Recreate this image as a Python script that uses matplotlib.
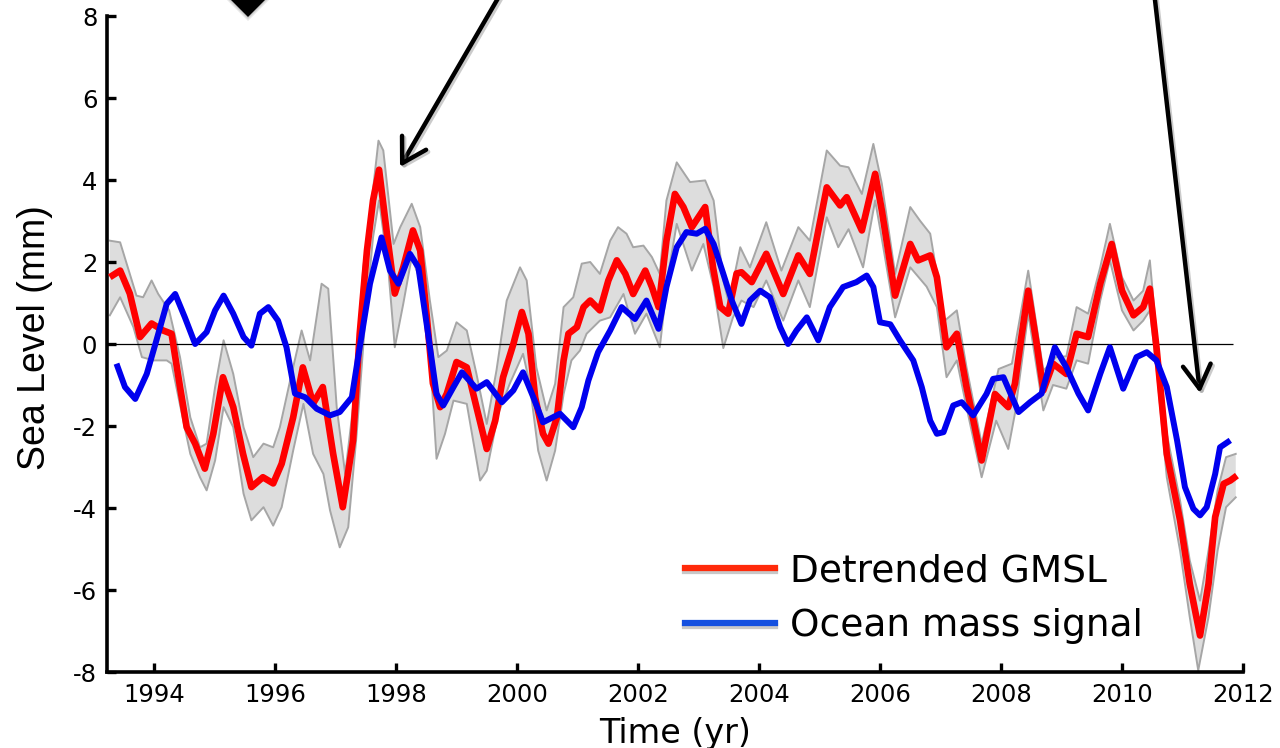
import numpy as np
import matplotlib
matplotlib.use("Agg")
import matplotlib.pyplot as plt
import matplotlib.patheffects as pe
from matplotlib.lines import Line2D
from matplotlib.patches import Polygon

# ---------------- data ----------------
gmsl_years = [
    1993.27, 1993.44, 1993.60, 1993.77, 1993.96, 1994.15, 1994.29, 1994.43, 1994.54, 1994.68,
    1994.84, 1994.98, 1995.14, 1995.31, 1995.47, 1995.61, 1995.80, 1995.97, 1996.11, 1996.30,
    1996.46, 1996.63, 1996.79, 1996.96, 1997.12, 1997.29, 1997.40, 1997.52, 1997.62, 1997.72,
    1997.85, 1997.98, 1998.12, 1998.28, 1998.40, 1998.51, 1998.61, 1998.73, 1998.84, 1999.00,
    1999.17, 1999.33, 1999.50, 1999.64, 1999.77, 1999.94, 2000.08, 2000.19, 2000.30, 2000.43,
    2000.52, 2000.66, 2000.77, 2000.85, 2000.99, 2001.10, 2001.21, 2001.37, 2001.51, 2001.65,
    2001.79, 2001.92, 2002.12, 2002.23, 2002.34, 2002.47, 2002.61, 2002.75, 2002.89, 2003.11,
    2003.24, 2003.36, 2003.49, 2003.63, 2003.71, 2003.88, 2004.12, 2004.40, 2004.65, 2004.84,
    2005.12, 2005.34, 2005.45, 2005.70, 2005.92, 2006.03, 2006.25, 2006.50, 2006.63, 2006.83,
    2006.94, 2007.10, 2007.27, 2007.43, 2007.68, 2007.90, 2008.12, 2008.23, 2008.33, 2008.45,
    2008.59, 2008.70, 2008.86, 2009.08, 2009.25, 2009.44, 2009.64, 2009.83, 2010.00, 2010.19,
    2010.35, 2010.46, 2010.57, 2010.74, 2010.96, 2011.12, 2011.29, 2011.43, 2011.54, 2011.68,
    2011.79, 2011.90]
gmsl_values = [
    1.63, 1.79, 1.23, 0.17, 0.50, 0.33, 0.25, -1.05, -2.03, -2.43,
    -3.04, -2.19, -0.81, -1.54, -2.67, -3.49, -3.25, -3.40, -2.92, -1.79,
    -0.57, -1.45, -1.05, -2.67, -3.98, -2.35, 0.25, 2.28, 3.50, 4.25,
    2.69, 1.23, 1.87, 2.77, 2.28, 0.65, -0.96, -1.54, -1.21, -0.44,
    -0.57, -1.54, -2.56, -1.87, -0.81, 0.00, 0.78, 0.25, -1.30, -2.19,
    -2.43, -1.79, -0.40, 0.25, 0.41, 0.90, 1.06, 0.82, 1.55, 2.04,
    1.71, 1.22, 1.79, 1.39, 0.90, 2.52, 3.66, 3.34, 2.85, 3.34,
    1.87, 0.90, 0.74, 1.72, 1.75, 1.51, 2.20, 1.22, 2.16, 1.71,
    3.82, 3.38, 3.58, 2.77, 4.15, 3.26, 1.18, 2.44, 2.04, 2.16,
    1.63, -0.08, 0.25, -1.05, -2.84, -1.22, -1.54, -0.97, 0.10, 1.30,
    0.00, -1.13, -0.48, -0.73, 0.25, 0.17, 1.47, 2.44, 1.30, 0.70,
    0.90, 1.35, -0.08, -2.68, -4.30, -5.85, -7.11, -5.85, -4.22, -3.41,
    -3.33, -3.21]

mass_years = [
    1993.38, 1993.52, 1993.69, 1993.88, 1994.04, 1994.21, 1994.35, 1994.51, 1994.68, 1994.87,
    1995.01, 1995.15, 1995.31, 1995.48, 1995.61, 1995.75, 1995.89, 1996.05, 1996.19, 1996.33,
    1996.50, 1996.69, 1996.91, 1997.07, 1997.27, 1997.40, 1997.57, 1997.76, 1997.90, 1998.04,
    1998.23, 1998.37, 1998.53, 1998.67, 1998.78, 1998.95, 1999.09, 1999.33, 1999.50, 1999.75,
    1999.94, 2000.10, 2000.27, 2000.43, 2000.71, 2000.93, 2001.07, 2001.18, 2001.34, 2001.54,
    2001.73, 2001.95, 2002.14, 2002.34, 2002.47, 2002.64, 2002.80, 2002.97, 2003.11, 2003.25,
    2003.41, 2003.55, 2003.71, 2003.85, 2004.02, 2004.18, 2004.35, 2004.48, 2004.62, 2004.79,
    2004.98, 2005.17, 2005.39, 2005.61, 2005.78, 2005.89, 2006.00, 2006.17, 2006.33, 2006.55,
    2006.69, 2006.83, 2006.94, 2007.05, 2007.21, 2007.35, 2007.54, 2007.76, 2007.87, 2008.04,
    2008.29, 2008.48, 2008.67, 2008.89, 2009.08, 2009.28, 2009.44, 2009.64, 2009.80, 2010.02,
    2010.24, 2010.41, 2010.57, 2010.74, 2010.91, 2011.04, 2011.18, 2011.29, 2011.40, 2011.54,
    2011.62, 2011.79]
mass_values = [
    -0.48, -1.05, -1.34, -0.73, 0.09, 0.98, 1.22, 0.65, 0.00, 0.29,
    0.82, 1.18, 0.74, 0.17, -0.04, 0.74, 0.90, 0.57, -0.08, -1.21,
    -1.30, -1.58, -1.74, -1.66, -1.30, -0.08, 1.47, 2.60, 1.79, 1.47,
    2.20, 1.87, 0.25, -1.22, -1.50, -1.05, -0.69, -1.09, -0.93, -1.42,
    -1.13, -0.69, -1.30, -1.91, -1.70, -2.03, -1.54, -0.89, -0.20, 0.33,
    0.90, 0.61, 1.06, 0.37, 1.39, 2.36, 2.73, 2.69, 2.81, 2.44,
    1.71, 1.06, 0.49, 1.06, 1.30, 1.14, 0.41, 0.00, 0.33, 0.65,
    0.09, 0.90, 1.39, 1.51, 1.67, 1.39, 0.53, 0.48, 0.09, -0.40,
    -1.05, -1.87, -2.19, -2.15, -1.50, -1.42, -1.74, -1.22, -0.85, -0.81,
    -1.66, -1.42, -1.21, -0.08, -0.57, -1.21, -1.62, -0.73, -0.08, -1.09,
    -0.32, -0.20, -0.40, -1.05, -2.35, -3.49, -4.02, -4.18, -3.98, -3.17,
    -2.52, -2.35]

upper_years = [
    1993.27, 1993.44, 1993.71, 1993.82, 1993.96, 1994.07, 1994.25, 1994.43, 1994.60, 1994.76,
    1994.87, 1995.01, 1995.15, 1995.31, 1995.48, 1995.64, 1995.81, 1995.97, 1996.08, 1996.25,
    1996.44, 1996.58, 1996.77, 1996.88, 1997.02, 1997.16, 1997.29, 1997.46, 1997.60, 1997.71,
    1997.79, 1997.96, 1998.07, 1998.26, 1998.40, 1998.56, 1998.70, 1998.84, 1999.00, 1999.17,
    1999.33, 1999.50, 1999.66, 1999.83, 2000.05, 2000.16, 2000.32, 2000.49, 2000.63, 2000.77,
    2000.93, 2001.07, 2001.21, 2001.37, 2001.54, 2001.67, 2001.81, 2001.92, 2002.09, 2002.23,
    2002.36, 2002.47, 2002.64, 2002.86, 2003.11, 2003.25, 2003.41, 2003.50, 2003.69, 2003.85,
    2004.12, 2004.37, 2004.65, 2004.84, 2005.12, 2005.34, 2005.48, 2005.70, 2005.89, 2006.03,
    2006.25, 2006.50, 2006.66, 2006.83, 2007.07, 2007.27, 2007.43, 2007.68, 2007.96, 2008.18,
    2008.45, 2008.70, 2008.91, 2009.08, 2009.25, 2009.44, 2009.64, 2009.80, 2010.00, 2010.19,
    2010.35, 2010.46, 2010.57, 2010.74, 2010.96, 2011.12, 2011.29, 2011.43, 2011.58, 2011.72,
    2011.88]
upper_values = [
    2.52, 2.48, 1.18, 1.14, 1.55, 1.22, 0.82, -0.32, -1.79, -2.52,
    -2.43, -1.05, 0.09, -0.73, -2.03, -2.76, -2.43, -2.52, -2.03, -0.89,
    0.33, -0.40, 1.47, 1.35, -1.54, -3.17, -1.54, 1.87, 3.50, 4.96,
    4.72, 2.44, 2.85, 3.42, 2.85, 1.06, -0.32, -0.16, 0.53, 0.33,
    -0.73, -1.95, -0.65, 1.06, 1.87, 1.55, -0.57, -1.62, -0.97, 0.90,
    1.14, 1.96, 2.00, 1.71, 2.52, 2.85, 2.69, 2.36, 2.40, 2.12,
    1.71, 3.50, 4.43, 3.95, 3.99, 3.50, 1.55, 1.00, 2.36, 1.87,
    2.97, 1.79, 2.85, 2.52, 4.72, 4.35, 4.31, 3.66, 4.88, 3.91,
    1.71, 3.34, 3.01, 2.69, 0.57, 0.82, -0.57, -2.43, -0.61, -0.48,
    1.79, -0.65, -0.32, -0.30, 0.90, 0.74, 1.87, 2.93, 1.63, 1.06,
    1.30, 2.04, 0.25, -2.19, -3.82, -5.28, -6.26, -5.04, -3.57, -2.76,
    -2.68]

lower_years = [
    1993.27, 1993.44, 1993.66, 1993.80, 1993.99, 1994.21, 1994.29, 1994.46, 1994.60, 1994.76,
    1994.87, 1995.01, 1995.15, 1995.31, 1995.48, 1995.61, 1995.81, 1995.97, 1996.11, 1996.30,
    1996.47, 1996.63, 1996.80, 1996.91, 1997.07, 1997.21, 1997.35, 1997.49, 1997.62, 1997.72,
    1997.87, 1997.98, 1998.12, 1998.26, 1998.40, 1998.56, 1998.67, 1998.81, 1998.95, 1999.17,
    1999.39, 1999.50, 1999.69, 1999.88, 2000.10, 2000.21, 2000.35, 2000.49, 2000.63, 2000.77,
    2000.90, 2001.04, 2001.15, 2001.37, 2001.54, 2001.76, 2001.95, 2002.14, 2002.36, 2002.50,
    2002.64, 2002.89, 2003.08, 2003.25, 2003.41, 2003.57, 2003.71, 2003.91, 2004.12, 2004.40,
    2004.65, 2004.84, 2005.12, 2005.31, 2005.48, 2005.72, 2005.92, 2006.05, 2006.25, 2006.50,
    2006.77, 2006.94, 2007.10, 2007.27, 2007.43, 2007.68, 2007.92, 2008.12, 2008.23, 2008.45,
    2008.70, 2008.86, 2009.08, 2009.25, 2009.44, 2009.64, 2009.80, 2010.00, 2010.19, 2010.35,
    2010.46, 2010.57, 2010.74, 2010.96, 2011.12, 2011.26, 2011.43, 2011.58, 2011.72, 2011.88]
lower_values = [
    0.70, 1.14, 0.41, -0.32, -0.40, -0.40, -0.48, -1.70, -2.68, -3.25,
    -3.57, -2.84, -1.54, -2.03, -3.65, -4.30, -3.98, -4.43, -3.98, -2.60,
    -1.46, -2.68, -3.17, -4.06, -4.96, -4.47, -2.19, 0.57, 2.60, 3.50,
    1.87, -0.08, 0.98, 2.12, 1.55, -0.24, -2.80, -2.19, -1.38, -1.46,
    -3.33, -3.09, -1.70, -0.97, -0.24, -0.97, -2.60, -3.33, -2.60, -1.22,
    -0.40, -0.16, 0.25, 0.57, 0.65, 1.22, 0.25, 0.74, -0.08, 1.71,
    2.93, 1.79, 2.44, 1.39, -0.10, 0.65, 1.06, 0.90, 1.55, 0.57,
    1.55, 0.90, 3.09, 2.36, 2.80, 1.87, 3.50, 2.40, 0.65, 1.87,
    1.40, 0.90, -0.81, -0.40, -1.54, -3.25, -1.87, -2.56, -1.70, 0.74,
    -1.62, -1.00, -1.09, -0.40, -0.48, 1.06, 2.04, 0.82, 0.33, 0.57,
    0.82, -0.57, -3.25, -5.04, -6.66, -7.96, -6.66, -5.04, -3.98, -3.74]

x_ticks = [1994, 1996, 1998, 2000, 2002, 2004, 2006, 2008, 2010, 2012]
y_ticks = [-8, -6, -4, -2, 0, 2, 4, 6, 8]
legend_labels = ["Detrended GMSL", "Ocean mass signal"]

# ---------------- figure ----------------
W, H = 1280, 748
fig = plt.figure(figsize=(W / 100, H / 100), dpi=100)
fig.patch.set_facecolor("white")

ax = fig.add_axes([107 / W, (H - 672) / H, 1136 / W, 656 / H])
ax.set_xlim(1993.223, 2012)
ax.set_ylim(-8, 8)

# uncertainty band
band_x = np.concatenate([upper_years, lower_years[::-1]])
band_y = np.concatenate([upper_values, lower_values[::-1]])
ax.fill(band_x, band_y, facecolor="#dddddd", edgecolor="none", zorder=1)
ax.plot(upper_years, upper_values, color="#a6a6a6", lw=1.4, zorder=1.5)
ax.plot(lower_years, lower_values, color="#a6a6a6", lw=1.4, zorder=1.5)

# zero line
ax.hlines(0, 1993.223, 2011.83, color="black", lw=0.9, zorder=2)

# series
ax.plot(gmsl_years, gmsl_values, color="#ff0000", lw=4.8, zorder=3,
        solid_joinstyle="round", solid_capstyle="butt")
ax.plot(mass_years, mass_values, color="#0000ee", lw=4.3, zorder=4,
        solid_joinstyle="round", solid_capstyle="butt")

# axes styling
for side in ("top", "right"):
    ax.spines[side].set_visible(False)
for side in ("left", "bottom"):
    ax.spines[side].set_linewidth(2.6)
ax.set_xticks(x_ticks)
ax.set_xticklabels([str(t) for t in x_ticks])
ax.set_yticks(y_ticks)
ax.set_yticklabels([str(t) for t in y_ticks])
ax.tick_params(direction="in", length=6.5, width=2.4, labelsize=17.5, colors="black")
ax.tick_params(axis="x", pad=8)
ax.tick_params(axis="y", pad=7)

ax.set_ylabel("Sea Level (mm)", family=["Liberation Sans Narrow", "Liberation Sans"],
              fontsize=27)
ax.yaxis.set_label_coords(-0.0475, 0.51)
ax.set_xlabel("Time (yr)", fontsize=24, family=["DejaVu Sans"])
ax.xaxis.set_label_coords(0.5, -0.068)

# legend
shadow = [pe.SimpleLineShadow(offset=(0, -2.5), shadow_color="#c8c8c8", alpha=1.0), pe.Normal()]
h1 = Line2D([], [], color="#ff2a0a", lw=4.5, path_effects=shadow)
h2 = Line2D([], [], color="#1450e0", lw=4.5, path_effects=shadow)
ax.legend([h1, h2], legend_labels, loc="upper left",
          bbox_to_anchor=(685 / W, 1 - 553 / H), bbox_transform=fig.transFigure,
          frameon=False, fontsize=27, handlelength=2.4, handletextpad=0.4,
          labelspacing=0.5, borderpad=0, borderaxespad=0)

# annotation arrows (tails run off the top of the figure)
arrow_shadow = [pe.SimpleLineShadow(offset=(1.5, -1.5), shadow_color="#999999", alpha=0.5),
                pe.Normal()]
for tip, tail in [((400, H - 167), (508.6, H + 20)), ((1200, H - 393), (1152.7, H + 20))]:
    ann = ax.annotate("", xy=tip, xytext=tail, xycoords="figure pixels",
                      textcoords="figure pixels", annotation_clip=False,
                      arrowprops=dict(arrowstyle="->,head_length=0.85,head_width=0.5",
                                      lw=3.2, color="black", shrinkA=0, shrinkB=0,
                                      mutation_scale=20))
    ann.arrow_patch.set_path_effects(arrow_shadow)

# black diamond marker cut by the top edge
def px(x, y_top):
    return (x / W, 1 - y_top / H)

for off, col, alpha in [(4, "#bbbbbb", 0.35), (2, "#999999", 0.35)]:
    fig.patches.append(Polygon([px(248, 17 + off), px(290 + off, -25), px(206 - off, -25)],
                               closed=True, transform=fig.transFigure,
                               facecolor=col, edgecolor="none", alpha=alpha))
fig.patches.append(Polygon([px(248, 17), px(290, -25), px(206, -25)], closed=True,
                           transform=fig.transFigure, facecolor="black", edgecolor="none"))

fig.savefig("out.png", dpi=100)
